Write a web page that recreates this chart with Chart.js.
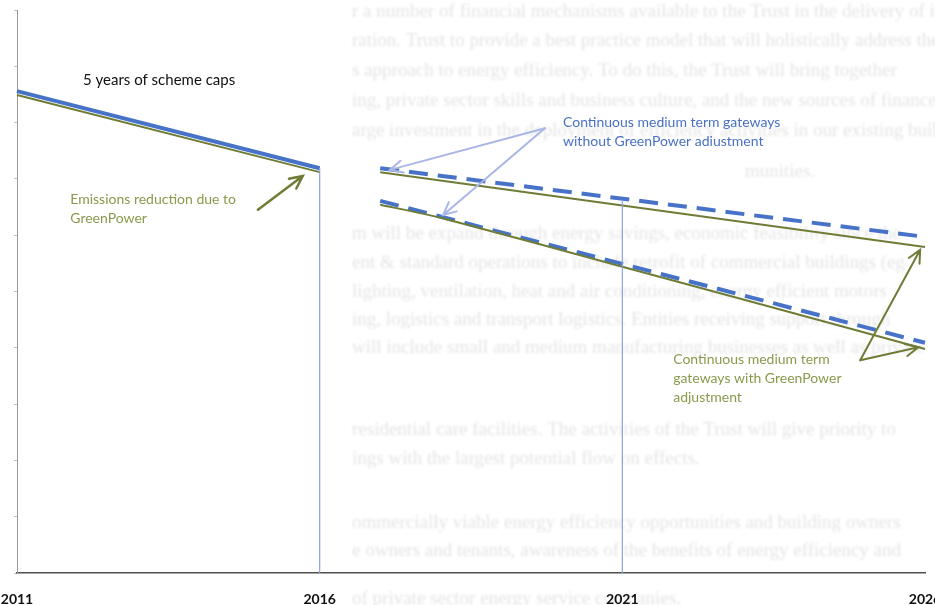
<!DOCTYPE html>
<html>
<head>
<meta charset="utf-8">
<script src="https://cdn.jsdelivr.net/npm/chart.js@4.4.1/dist/chart.umd.min.js"></script>
<style>
  html, body { margin: 0; padding: 0; background: #fff; overflow: hidden; }
</style>
</head>
<body>
<canvas id="myChart" width="935" height="605"></canvas>
<script>
// tick years on the x axis
const yearTicks = [2011, 2016, 2021, 2026];

// 5 years of scheme caps
const capYears = [2011, 2016];
const capsWithout = [85.6, 71.9];
const capsWith = [84.9, 71.2];

// continuous medium term gateways
const gatewayYears = [2017, 2026];
const upperWithout = [71.9, 59.7];
const upperWith = [71.2, 57.9];
const lowerWithout = [66.1, 40.9];
const lowerWithYears = [2017, 2018, 2021, 2026];
const lowerWith = [65.4, 63.1, 54.4, 39.8];

// vertical marker lines
const markerYears = [2016, 2021];
const markerTops = [71.9, 66.3];

const BLUE = '#4672c8';
const OLIVE = '#6f7c36';
const OLIVE_TXT = '#899a4c';
const LIGHT_BLUE = '#a9b6e6';

const pts = function (xs, ys) {
  return xs.map(function (x, i) { return { x: x, y: ys[i] }; });
};

// annotation labels, anchored in data units (year, value)
const notes = [
  { lines: ['5 years of scheme caps'], at: [2012.09, 87.6], color: '#111111', size: 15 },
  { lines: ['Emissions reduction due to', 'GreenPower'], at: [2011.88, 66.3], color: OLIVE_TXT, size: 14 },
  { lines: ['Continuous medium term gateways', 'without GreenPower adiustment'], at: [2020.02, 80.1], color: '#4a70c6', size: 14 },
  { lines: ['Continuous medium term', 'gateways with GreenPower', 'adjustment'], at: [2021.84, 38.0], color: OLIVE_TXT, size: 14 }
];

const arrows = [
  { from: [2014.98, 64.5], to: [2015.72, 70.5], color: OLIVE, width: 2.5 },
  { from: [2019.72, 79.0], to: [2017.16, 71.6], color: LIGHT_BLUE, width: 2 },
  { from: [2019.72, 79.0], to: [2018.04, 63.6], color: LIGHT_BLUE, width: 2 },
  { from: [2024.93, 37.8], to: [2025.92, 57.4], color: OLIVE, width: 2 },
  { from: [2024.93, 37.8], to: [2025.89, 40.1], color: OLIVE, width: 2 }
];

// faint show-through text of the scanned page behind the chart
const bleedRows = [
  [352, 12, 'r a number of financial mechanisms available to the Trust in the delivery of its'],
  [352, 41, 'ration. Trust to provide a best practice model that will holistically address the'],
  [352, 71, 's approach to energy efficiency. To do this, the Trust will bring together'],
  [352, 101, 'ing, private sector skills and business culture, and the new sources of finance to'],
  [352, 131, 'arge investment in the deployment of efficiency activities in our existing buildings and'],
  [745, 172, 'munities.'],
  [352, 234, 'm will be expand through energy savings, economic feasibility since the'],
  [352, 263, 'ent & standard operations to include retrofit of commercial buildings (eg'],
  [352, 292, 'lighting, ventilation, heat and air conditioning, energy efficient motors'],
  [352, 320, 'ing, logistics and transport logistics. Entities receiving support through'],
  [352, 348, 'will include small and medium manufacturing businesses as well as private'],
  [352, 430, 'residential care facilities. The activities of the Trust will give priority to'],
  [352, 459, 'ings with the largest potential flow on effects.'],
  [352, 523, 'ommercially viable energy efficiency opportunities and building owners'],
  [352, 551, 'e owners and tenants, awareness of the benefits of energy efficiency and'],
  [352, 599, 'of private sector energy service companies.']
];

const drawArrow = function (ctx, x1, y1, x2, y2, color, width) {
  const ang = Math.atan2(y2 - y1, x2 - x1);
  const head = 14;
  ctx.save();
  ctx.strokeStyle = color;
  ctx.lineWidth = width;
  ctx.lineCap = 'round';
  ctx.beginPath();
  ctx.moveTo(x1, y1);
  ctx.lineTo(x2, y2);
  ctx.moveTo(x2 - head * Math.cos(ang - 0.45), y2 - head * Math.sin(ang - 0.45));
  ctx.lineTo(x2, y2);
  ctx.lineTo(x2 - head * Math.cos(ang + 0.45), y2 - head * Math.sin(ang + 0.45));
  ctx.stroke();
  ctx.restore();
};

const paperPlugin = {
  id: 'paper',
  beforeDraw: function (chart) {
    const ctx = chart.ctx;
    ctx.save();
    ctx.fillStyle = '#ffffff';
    ctx.fillRect(0, 0, chart.width, chart.height);
    ctx.fillStyle = 'rgba(70,70,70,0.15)';
    ctx.font = '19px "Liberation Serif"';
    ctx.textBaseline = 'middle';
    ctx.filter = 'blur(0.9px)';
    bleedRows.forEach(function (r) { ctx.fillText(r[2], r[0], r[1]); });
    ctx.restore();
  }
};

const notesPlugin = {
  id: 'notes',
  afterDatasetsDraw: function (chart) {
    const ctx = chart.ctx;
    const sx = chart.scales.x, sy = chart.scales.y;
    arrows.forEach(function (a) {
      drawArrow(ctx,
        sx.getPixelForValue(a.from[0]), sy.getPixelForValue(a.from[1]),
        sx.getPixelForValue(a.to[0]), sy.getPixelForValue(a.to[1]),
        a.color, a.width);
    });
    ctx.save();
    ctx.textBaseline = 'middle';
    notes.forEach(function (n) {
      ctx.fillStyle = n.color;
      ctx.font = n.size + 'px Lato';
      const x = sx.getPixelForValue(n.at[0]);
      const y = sy.getPixelForValue(n.at[1]);
      n.lines.forEach(function (t, i) { ctx.fillText(t, x, y + i * 19); });
    });
    ctx.restore();
  }
};

const ctx = document.getElementById('myChart');
const myChart = new Chart(ctx, {
  type: 'line',
  data: {
    datasets: [
      { data: pts([markerYears[0], markerYears[0]], [markerTops[0], 0]), borderColor: '#8ea2e0', borderWidth: 1.2 },
      { data: pts([markerYears[1], markerYears[1]], [markerTops[1], 0]), borderColor: '#8ea2e0', borderWidth: 1.2 },
      { data: pts(capYears, capsWith), borderColor: OLIVE, borderWidth: 2 },
      { data: pts(capYears, capsWithout), borderColor: BLUE, borderWidth: 4 },
      { data: pts(gatewayYears, upperWith), borderColor: OLIVE, borderWidth: 2 },
      { data: pts(lowerWithYears, lowerWith), borderColor: OLIVE, borderWidth: 2, tension: 0.2 },
      { data: pts(gatewayYears, upperWithout), borderColor: BLUE, borderWidth: 4, borderDash: [19, 10] },
      { data: pts(gatewayYears, lowerWithout), borderColor: BLUE, borderWidth: 4, borderDash: [19, 10] }
    ]
  },
  options: {
    responsive: false,
    animation: false,
    clip: false,
    layout: { padding: { top: 10, right: 10, left: 0, bottom: 0 } },
    elements: { point: { radius: 0 }, line: { fill: false, borderCapStyle: 'butt' } },
    plugins: { legend: { display: false }, tooltip: { enabled: false } },
    scales: {
      x: {
        type: 'linear',
        min: 2011,
        max: 2026,
        afterBuildTicks: function (s) { s.ticks = yearTicks.map(function (v) { return { value: v }; }); },
        afterFit: function (s) { s.height = 32; s.paddingLeft = 0; s.paddingRight = 0; },
        grid: { display: false, drawTicks: false },
        border: { display: true, color: '#505050', width: 1.5 },
        ticks: {
          padding: 18,
          maxRotation: 0,
          autoSkip: false,
          color: '#111',
          font: { family: 'Lato', size: 14, weight: 'bold' },
          callback: function (v) { return String(v); }
        }
      },
      y: {
        min: 0,
        max: 100,
        afterFit: function (s) { s.width = 17; },
        grid: { display: true, drawOnChartArea: false, tickLength: 3, color: '#c4c4c4' },
        border: { display: true, color: '#9a9a9a', width: 1 },
        ticks: { display: false, stepSize: 10 }
      }
    }
  },
  plugins: [paperPlugin, notesPlugin]
});
</script>
</body>
</html>
